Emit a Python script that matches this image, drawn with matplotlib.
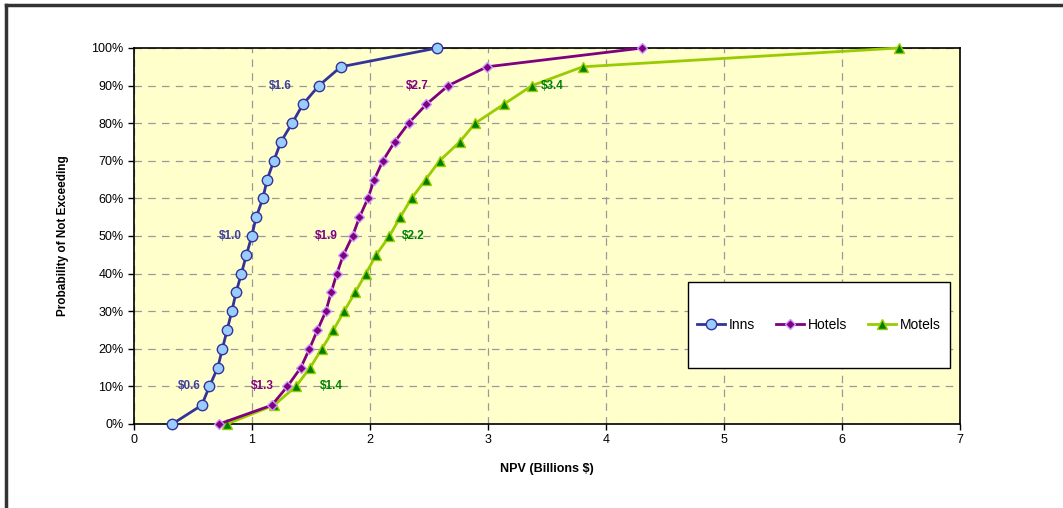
import numpy as np
import matplotlib.pyplot as plt
from matplotlib.lines import Line2D
from matplotlib.patches import Rectangle
from matplotlib.ticker import PercentFormatter

plt.rcParams['font.family'] = ['Liberation Sans', 'DejaVu Sans']

##cumulative probability levels (%)
prob = [0, 5, 10, 15, 20, 25, 30, 35, 40, 45, 50,
        55, 60, 65, 70, 75, 80, 85, 90, 95, 100]

##NPV values (billions $)
inns = [0.325, 0.574, 0.639, 0.710, 0.749, 0.789, 0.829, 0.865, 0.910, 0.953, 0.998,
        1.035, 1.092, 1.128, 1.185, 1.244, 1.340, 1.431, 1.567, 1.753, 2.570]
hotels = [0.721, 1.168, 1.300, 1.414, 1.487, 1.555, 1.626, 1.671, 1.719, 1.775, 1.852,
          1.911, 1.982, 2.036, 2.109, 2.208, 2.327, 2.477, 2.663, 2.992, 4.309]
motels = [0.786, 1.187, 1.372, 1.493, 1.592, 1.690, 1.781, 1.874, 1.965, 2.053, 2.165,
          2.256, 2.352, 2.471, 2.590, 2.759, 2.892, 3.132, 3.373, 3.802, 6.480]

##percentile labels (prob level, text)
inns_labels = [(10, '$0.6'), (50, '$1.0'), (90, '$1.6')]
hotels_labels = [(10, '$1.3'), (50, '$1.9'), (90, '$2.7')]
motels_labels = [(10, '$1.4'), (50, '$2.2'), (90, '$3.4')]

fig = plt.figure(figsize=(10.63, 5.08), dpi=100)
ax = fig.add_axes([134/1063, 1-424/508, 826/1063, 376/508])
ax.set_facecolor('#FFFFCC')

ax.plot(inns, prob, color='#333399', lw=2, marker='o', ms=7.5,
        mfc='#99CCFF', mec='#333399', mew=1, label='Inns', zorder=5, clip_on=False)
ax.plot(hotels, prob, color='#800080', lw=2, marker='D', ms=5,
        mfc='#800080', mec='#CC99FF', mew=1, label='Hotels', zorder=4, clip_on=False)
ax.plot(motels, prob, color='#99CC00', lw=2, marker='^', ms=7.5,
        mfc='#008000', mec='#99CC00', mew=1, label='Motels', zorder=3, clip_on=False)

##text labels next to the 10/50/90 points, pixel offsets from the point
def put_labels(vals, labels, col, offsets, ha):
    for (p, t), dx in zip(labels, offsets):
        x = vals[prob.index(p)]
        ax.annotate(t, (x, p), xytext=(dx, 0), textcoords='offset pixels',
                    ha=ha, va='center', color=col, fontsize=8.5, fontweight='bold')

put_labels(inns, inns_labels, '#3F3F9F', [-9, -10, -27], 'right')
put_labels(hotels, hotels_labels, '#800080', [-14, -15, -20], 'right')
put_labels(motels, motels_labels, '#008000', [24, 12, 9], 'left')

ax.set_xlim(0, 7)
ax.set_ylim(0, 100)
ax.set_xticks(range(8))
ax.set_yticks(range(0, 101, 10))
ax.yaxis.set_major_formatter(PercentFormatter(decimals=0))
ax.tick_params(direction='out', length=4, labelsize=9, width=1)
ax.grid(True, color='#999999', ls=(0, (6, 5)), lw=0.9)
ax.set_axisbelow(True)
for s in ax.spines.values():
    s.set_color('black')
    s.set_linewidth(1.2)

ax.set_xlabel('NPV (Billions $)', fontsize=9, fontweight='bold', labelpad=12)
ax.set_ylabel('Probability of Not Exceeding', fontsize=8.5, fontweight='bold', labelpad=16)

##legend box drawn separately so the entries keep their natural spacing
ax.add_patch(Rectangle((688/1063, 1-368/508), 262/1063, 86/508, transform=fig.transFigure,
                       facecolor='white', edgecolor='black', lw=1, zorder=6, clip_on=False))
leg = ax.legend(loc='center', bbox_to_anchor=(688/1063, 1-368/508, 262/1063, 86/508),
                bbox_transform=fig.transFigure, ncol=3, fontsize=10,
                frameon=False, handlelength=2.0, handletextpad=0.3,
                columnspacing=1.5, borderaxespad=0)
leg.set_zorder(7)

##outer border (top and left only visible)
fig.add_artist(Line2D([6/1063, 1], [1-5/508, 1-5/508], color='#333333', lw=2.5))
fig.add_artist(Line2D([6/1063, 6/1063], [0, 1-5/508], color='#333333', lw=2.5))

plt.savefig('out.png', dpi=100)
